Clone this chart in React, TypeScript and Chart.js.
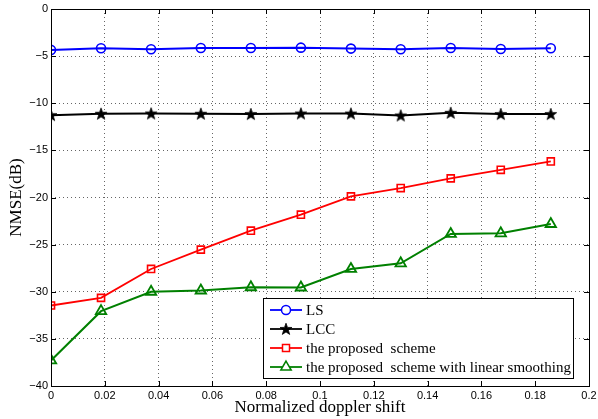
import React, { useEffect, useRef } from "react";
import { Chart, registerables } from "chart.js";

Chart.register(...registerables);

const xValues = [0, 0.0186, 0.0372, 0.0557, 0.0743, 0.0929, 0.1115, 0.13, 0.1486, 0.1672, 0.1858];
const lsValues = [-4.34, -4.17, -4.27, -4.13, -4.13, -4.1, -4.2, -4.27, -4.13, -4.24, -4.17];
const lccValues = [-11.26, -11.12, -11.09, -11.12, -11.15, -11.09, -11.1, -11.3, -11.02, -11.15, -11.15];
const proposedValues = [-31.46, -30.65, -27.58, -25.53, -23.52, -21.82, -19.88, -19.0, -17.97, -17.06, -16.17];
const smoothingValues = [-37.29, -32.06, -30.0, -29.87, -29.52, -29.55, -27.58, -26.98, -23.87, -23.8, -22.81];
const seriesLabels = ["LS", "LCC", "the proposed  scheme", "the proposed  scheme with linear smoothing"];
const seriesColors = ["#0000ff", "#000000", "#ff0000", "#008000"];
const xTicks = [0, 0.02, 0.04, 0.06, 0.08, 0.1, 0.12, 0.14, 0.16, 0.18, 0.2];
const yTicks = [-40, -35, -30, -25, -20, -15, -10, -5, 0];
const xTitle = "Normalized doppler shift";
const yTitle = "NMSE(dB)";

function makeStar(): HTMLCanvasElement {
  const c = document.createElement("canvas");
  c.width = 14;
  c.height = 14;
  const g = c.getContext("2d")!;
  const cx = 7, cy = 7.4, R = 6.2, r = 2.5;
  g.beginPath();
  for (let i = 0; i < 10; i++) {
    const rad = (Math.PI / 5) * i - Math.PI / 2;
    const rr = i % 2 === 0 ? R : r;
    const px = cx + Math.cos(rad) * rr;
    const py = cy + Math.sin(rad) * rr;
    if (i === 0) g.moveTo(px, py);
    else g.lineTo(px, py);
  }
  g.closePath();
  g.fillStyle = "#000";
  g.fill();
  g.lineWidth = 0.8;
  g.strokeStyle = "#000";
  g.stroke();
  return c;
}

export default function App() {
  const ref = useRef<HTMLCanvasElement | null>(null);
  useEffect(() => {
    if (!ref.current) return;
    const star = makeStar();
    const toPts = (ys: number[]) => ys.map((y, i) => ({ x: xValues[i], y }));
    const serifFont = '"Liberation Serif", "Times New Roman", serif';
    const sansFont = '"Liberation Sans", Arial, sans-serif';

    const overlay = {
      id: "overlay",
      afterDraw(chart: any) {
        const { ctx, chartArea } = chart;
        const { left, right, top, bottom } = chartArea;
        const xs = chart.scales.x;
        const ys = chart.scales.y;
        ctx.save();
        ctx.strokeStyle = "#000";
        ctx.lineWidth = 1;
        ctx.setLineDash([]);
        ctx.strokeRect(Math.round(left) + 0.5, Math.round(top) + 0.5, Math.round(right - left), Math.round(bottom - top));
        ctx.beginPath();
        xTicks.forEach((v) => {
          const px = Math.round(xs.getPixelForValue(v)) + 0.5;
          ctx.moveTo(px, bottom);
          ctx.lineTo(px, bottom - 5);
          ctx.moveTo(px, top);
          ctx.lineTo(px, top + 5);
        });
        yTicks.forEach((v) => {
          const py = Math.round(ys.getPixelForValue(v)) + 0.5;
          ctx.moveTo(left, py);
          ctx.lineTo(left + 5, py);
          ctx.moveTo(right, py);
          ctx.lineTo(right - 5, py);
        });
        ctx.stroke();

        // titles
        ctx.fillStyle = "#000";
        ctx.font = `17px ${serifFont}`;
        ctx.textAlign = "center";
        ctx.textBaseline = "middle";
        ctx.fillText(xTitle, (left + right) / 2, 408);
        ctx.save();
        ctx.translate(17, (top + bottom) / 2);
        ctx.rotate(-Math.PI / 2);
        ctx.font = `17px ${serifFont}`;
        ctx.fillText(yTitle, 0, 0);
        ctx.restore();

        // legend
        const lx = 263.5, ly = 298.5, lw = 310, lh = 80;
        ctx.fillStyle = "#fff";
        ctx.fillRect(lx, ly, lw, lh);
        ctx.strokeStyle = "#000";
        ctx.lineWidth = 1;
        ctx.strokeRect(lx, ly, lw, lh);
        const rowY = [310, 329, 348, 367];
        seriesLabels.forEach((label, i) => {
          const y = rowY[i];
          const col = seriesColors[i];
          ctx.strokeStyle = col;
          ctx.lineWidth = 1.8;
          ctx.beginPath();
          ctx.moveTo(270, y);
          ctx.lineTo(302, y);
          ctx.stroke();
          const mx = 286;
          ctx.lineWidth = 1.5;
          if (i === 0) {
            ctx.fillStyle = "#fff";
            ctx.beginPath();
            ctx.arc(mx, y, 4.5, 0, Math.PI * 2);
            ctx.fill();
            ctx.stroke();
          } else if (i === 1) {
            ctx.drawImage(star, mx - 7, y - 7);
          } else if (i === 2) {
            ctx.fillStyle = "#fff";
            ctx.fillRect(mx - 3.5, y - 3.5, 7, 7);
            ctx.strokeRect(mx - 3.5, y - 3.5, 7, 7);
          } else {
            ctx.fillStyle = "#fff";
            const R = 6;
            ctx.beginPath();
            for (let k = 0; k < 3; k++) {
              const a = (k * 2 * Math.PI) / 3;
              const px = mx + Math.sin(a) * R;
              const py = y - Math.cos(a) * R;
              if (k === 0) ctx.moveTo(px, py);
              else ctx.lineTo(px, py);
            }
            ctx.closePath();
            ctx.fill();
            ctx.stroke();
          }
          ctx.fillStyle = "#000";
          ctx.font = `15px ${serifFont}`;
          ctx.textAlign = "left";
          ctx.textBaseline = "middle";
          ctx.fillText(label, 306, y + 1);
        });
        ctx.restore();
      },
    };

    const chart = new Chart(ref.current, {
      type: "line",
      data: {
        datasets: [
          {
            label: seriesLabels[0],
            data: toPts(lsValues),
            borderColor: seriesColors[0],
            backgroundColor: "rgba(0,0,0,0)",
            borderWidth: 2,
            pointStyle: "circle",
            pointRadius: 4.5,
            pointBorderWidth: 1.6,
            pointBorderColor: seriesColors[0],
            pointBackgroundColor: "rgba(0,0,0,0)",
          },
          {
            label: seriesLabels[1],
            data: toPts(lccValues),
            borderColor: seriesColors[1],
            backgroundColor: "#000",
            borderWidth: 2,
            pointStyle: star as any,
            pointRadius: 7,
          },
          {
            label: seriesLabels[2],
            data: toPts(proposedValues),
            borderColor: seriesColors[2],
            backgroundColor: "rgba(0,0,0,0)",
            borderWidth: 1.8,
            pointStyle: "rect",
            pointRadius: 5,
            pointBorderWidth: 1.6,
            pointBorderColor: seriesColors[2],
            pointBackgroundColor: "rgba(0,0,0,0)",
          },
          {
            label: seriesLabels[3],
            data: toPts(smoothingValues),
            borderColor: seriesColors[3],
            backgroundColor: "rgba(0,0,0,0)",
            borderWidth: 2,
            pointStyle: "triangle",
            pointRadius: 6,
            pointBorderWidth: 1.8,
            pointBorderColor: seriesColors[3],
            pointBackgroundColor: "rgba(0,0,0,0)",
          },
        ],
      },
      options: {
        animation: false,
        responsive: false,
        maintainAspectRatio: false,
        devicePixelRatio: 1,
        layout: { padding: { left: 0, right: 6, top: 8, bottom: 0 } },
        plugins: {
          legend: { display: false },
          tooltip: { enabled: false },
          title: { display: false },
        },
        elements: { line: { tension: 0 } },
        scales: {
          x: {
            type: "linear",
            min: 0,
            max: 0.2,
            afterBuildTicks: (scale: any) => {
              scale.ticks = xTicks.map((v) => ({ value: v }));
            },
            afterFit: (scale: any) => {
              scale.height = 33;
              scale.paddingLeft = 0;
              scale.paddingRight = 0;
            },
            grid: { color: "rgba(0,0,0,0.6)", lineWidth: 1, drawTicks: false },
            border: { display: false, dash: [1, 3] },
            ticks: {
              autoSkip: false,
              maxRotation: 0,
              padding: 3,
              color: "#000",
              font: { family: sansFont, size: 11 },
              callback: (v: any) => (v === 0 ? "0" : String(Math.round(Number(v) * 100) / 100)),
            },
          },
          y: {
            type: "linear",
            min: -40,
            max: 0,
            afterBuildTicks: (scale: any) => {
              scale.ticks = yTicks.map((v) => ({ value: v }));
            },
            afterFit: (scale: any) => {
              scale.width = 51;
              scale.paddingTop = 0;
              scale.paddingBottom = 0;
            },
            grid: { color: "rgba(0,0,0,0.6)", lineWidth: 1, drawTicks: false },
            border: { display: false, dash: [1, 3] },
            ticks: {
              autoSkip: false,
              padding: 3,
              color: "#000",
              font: { family: sansFont, size: 11 },
              callback: (v: any) => (Number(v) < 0 ? "\u2212" + Math.abs(Number(v)) : "0"),
            },
          },
        },
      },
      plugins: [overlay],
    } as any);
    return () => chart.destroy();
  }, []);

  return (
    <div style={{ position: "fixed", left: 0, top: 0, width: 598, height: 419, background: "#fff" }}>
      <canvas ref={ref} width={598} height={419} style={{ width: 598, height: 419, display: "block" }} />
    </div>
  );
}
